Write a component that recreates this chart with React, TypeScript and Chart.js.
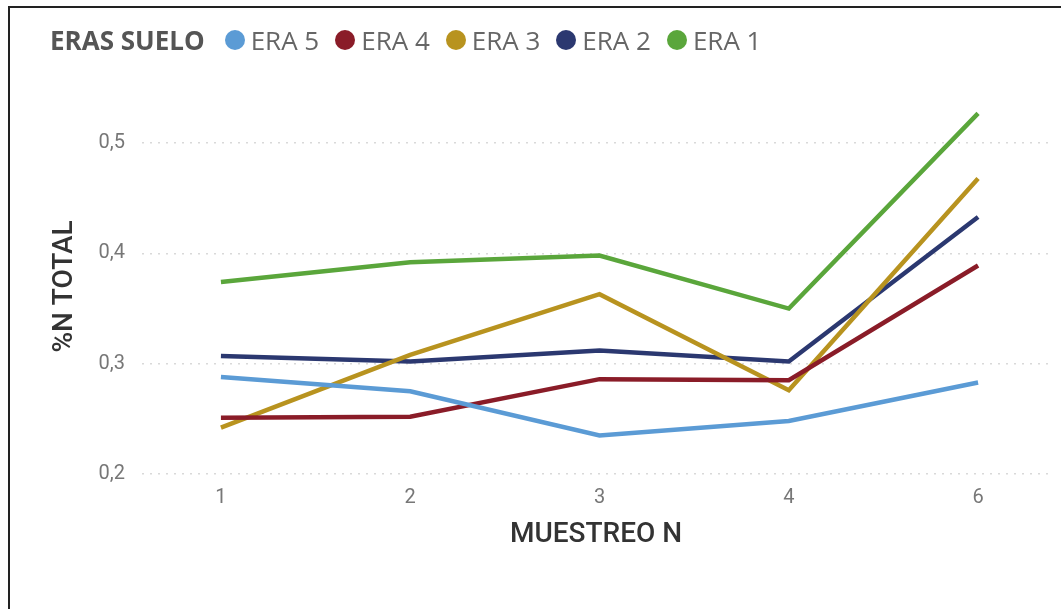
import React, { useEffect, useRef } from "react";
import { Chart, registerables } from "chart.js";

Chart.register(...registerables);

const categories = ["1", "2", "3", "4", "6"];
const seriesNames = ["ERA 5", "ERA 4", "ERA 3", "ERA 2", "ERA 1"];
const era5 = [0.288, 0.275, 0.235, 0.248, 0.283];
const era4 = [0.251, 0.252, 0.286, 0.285, 0.389];
const era3 = [0.242, 0.308, 0.363, 0.276, 0.468];
const era2 = [0.307, 0.302, 0.312, 0.302, 0.433];
const era1 = [0.374, 0.392, 0.398, 0.35, 0.527];
const yTicks = [0.2, 0.3, 0.4, 0.5];
const colors = ["#5B9BD5", "#8A1C28", "#B8931F", "#2B3870", "#5AA63B"];
const seriesValues = [era5, era4, era3, era2, era1];

export default function App() {
  const canvasRef = useRef<HTMLCanvasElement | null>(null);

  useEffect(() => {
    document.body.style.margin = "0";
    const canvas = canvasRef.current;
    if (!canvas) return;
    const chart = new Chart(canvas, {
      type: "line",
      data: {
        datasets: seriesNames.map((name, i) => ({
          label: name,
          data: seriesValues[i].map((v, j) => ({ x: j, y: v })),
          borderColor: colors[i],
          backgroundColor: colors[i],
          borderWidth: 4.5,
          pointRadius: 0,
          tension: 0,
          fill: false,
        })),
      },
      options: {
        animation: false,
        responsive: true,
        maintainAspectRatio: false,
        layout: { padding: { left: 0, right: 11, top: 99, bottom: 0 } },
        plugins: { legend: { display: false }, tooltip: { enabled: false } },
        scales: {
          x: {
            type: "linear",
            min: -0.417,
            max: 4.38,
            afterFit: (s: any) => {
              s.height = 135;
            },
            afterBuildTicks: (s: any) => {
              s.ticks = categories.map((_, i) => ({ value: i }));
            },
            grid: { display: false, drawTicks: false },
            border: { display: false },
            ticks: {
              padding: 12,
              color: "#777777",
              font: { family: "Roboto", size: 20 },
              callback: (v: any) => categories[v as number] ?? "",
              maxRotation: 0,
              autoSkip: false,
            },
            title: {
              display: true,
              text: "MUESTREO N",
              color: "#333333",
              font: { family: "Roboto", size: 28, weight: 500 },
              padding: { top: 0, bottom: 57 },
            },
          },
          y: {
            min: 0.2,
            max: 0.54,
            afterFit: (s: any) => {
              s.width = 142;
            },
            afterBuildTicks: (s: any) => {
              s.ticks = yTicks.map((v) => ({ value: v }));
            },
            grid: {
              color: "#d9d9d9",
              lineWidth: 1.5,
              drawTicks: false,
            },
            border: { display: false, dash: [2, 6] },
            ticks: {
              padding: 17,
              color: "#777777",
              font: { family: "Roboto", size: 20 },
              callback: (v: any) => Number(v).toFixed(1).replace(".", ","),
            },
            title: {
              display: true,
              text: "%N TOTAL",
              color: "#333333",
              font: { family: "Roboto", size: 28, weight: 500 },
              padding: { top: 48, bottom: 0 },
            },
          },
        },
      },
    });
    return () => chart.destroy();
  }, []);

  return (
    <div style={{ position: "relative", width: 1061, height: 609, background: "#fff", overflow: "hidden" }}>
      <canvas ref={canvasRef} />
      <div
        style={{
          position: "absolute",
          left: 8,
          top: 6,
          width: 1061,
          height: 609,
          borderLeft: "2px solid #222",
          borderTop: "2px solid #222",
          pointerEvents: "none",
        }}
      />
      <div
        style={{
          position: "absolute",
          left: 50,
          top: 22,
          display: "flex",
          alignItems: "center",
          fontFamily: "'Open Sans', sans-serif",
          fontSize: 26,
          color: "#666666",
          whiteSpace: "nowrap",
        }}
      >
        <span style={{ fontWeight: 700, color: "#555555", marginRight: 20 }}>ERAS SUELO</span>
        {seriesNames.map((name, i) => (
          <span key={name} style={{ display: "flex", alignItems: "center", marginRight: 16 }}>
            <span
              style={{
                width: 20,
                height: 20,
                borderRadius: "50%",
                background: colors[i],
                marginRight: 6,
                display: "inline-block",
              }}
            />
            {name}
          </span>
        ))}
      </div>
    </div>
  );
}
